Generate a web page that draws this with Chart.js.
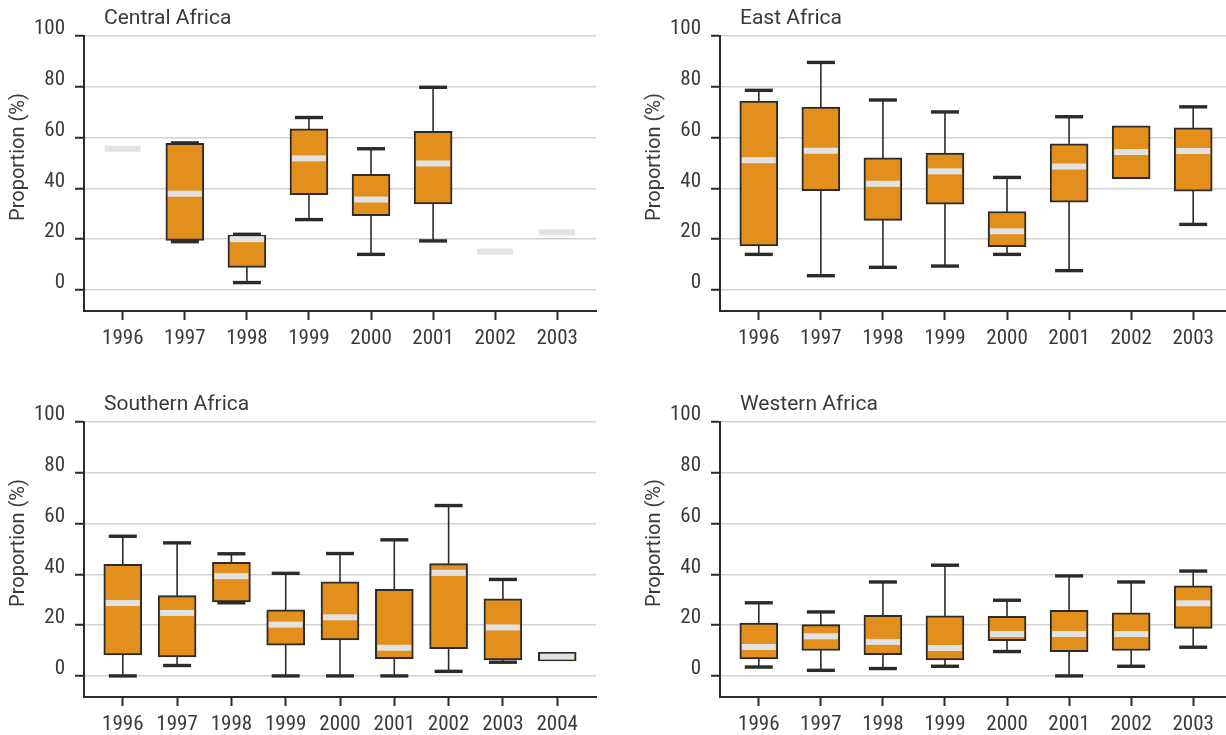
<!DOCTYPE html>
<html>
<head>
<meta charset="utf-8">
<script src="https://cdn.jsdelivr.net/npm/chart.js@4.4.1/dist/chart.umd.min.js"></script>
<style>
  html, body { margin: 0; padding: 0; background: #fff; overflow: hidden; width: 1226px; height: 735px; }
  .panel { position: absolute; }
</style>
</head>
<body>
<div class="panel" style="left:0;top:0"><canvas id="c-central" width="613" height="365"></canvas></div>
<div class="panel" style="left:636px;top:0"><canvas id="c-east" width="613" height="365"></canvas></div>
<div class="panel" style="left:0;top:386px"><canvas id="c-south" width="613" height="365"></canvas></div>
<div class="panel" style="left:636px;top:386px"><canvas id="c-west" width="613" height="365"></canvas></div>
<script>
// y axis ticks shared by all panels
const yTicks = [0, 20, 40, 60, 80, 100];

// Central Africa
const centralYears = ['1996', '1997', '1998', '1999', '2000', '2001', '2002', '2003'];
const centralMin = [null, 19.0, 2.9, 27.7, 14.0, 19.3, null, null];
const centralQ1  = [null, 19.5, 8.9, 37.5, 29.2, 33.9, null, null];
const centralMed = [55.6, 37.9, 20.0, 51.8, 35.6, 49.8, 15.1, 22.7];
const centralQ3  = [null, 57.7, 21.6, 63.4, 45.5, 62.5, null, null];
const centralMax = [null, 57.9, 21.9, 67.9, 55.6, 79.8, null, null];

// East Africa
const eastYears = ['1996', '1997', '1998', '1999', '2000', '2001', '2002', '2003'];
const eastMin = [14.0, 5.6, 8.9, 9.4, 14.0, 7.6, null, 25.8];
const eastQ1  = [17.3, 39.1, 27.4, 33.8, 17.0, 34.6, 43.8, 38.9];
const eastMed = [51.1, 54.8, 41.8, 46.7, 23.1, 48.6, 54.3, 54.7];
const eastQ3  = [74.4, 72.0, 52.0, 53.9, 30.9, 57.5, 64.6, 63.8];
const eastMax = [78.6, 89.6, 74.8, 70.1, 44.3, 68.2, null, 72.1];

// Southern Africa
const southYears = ['1996', '1997', '1998', '1999', '2000', '2001', '2002', '2003', '2004'];
const southMin = [0, 4.1, 28.8, 0, 0, 0, 1.8, 5.4, null];
const southQ1  = [8.3, 7.5, 29.1, 12.1, 14.2, 6.8, 10.7, 6.3, 5.9];
const southMed = [28.7, 24.8, 39.3, 20.2, 23.1, 11.1, 40.6, 19.1, 7.6];
const southQ3  = [43.9, 31.6, 44.7, 26.0, 37.1, 34.1, 44.2, 30.4, 9.3];
const southMax = [55.0, 52.4, 48.1, 40.4, 48.2, 53.6, 67.1, 38.0, null];

// Western Africa
const westYears = ['1996', '1997', '1998', '1999', '2000', '2001', '2002', '2003'];
const westMin = [3.5, 2.2, 2.9, 3.8, 9.6, 0, 3.8, 11.3];
const westQ1  = [6.7, 10.0, 8.4, 6.3, 13.9, 9.6, 10.0, 18.7];
const westMed = [11.4, 15.6, 13.4, 11.0, 16.5, 16.5, 16.5, 28.6];
const westQ3  = [20.8, 20.2, 23.9, 23.7, 23.5, 25.8, 24.8, 35.5];
const westMax = [28.8, 25.2, 37.0, 43.6, 29.8, 39.4, 37.0, 41.3];

const TICK_FONT = "'Roboto Condensed', Roboto, sans-serif";
const TITLE_FONT = "Roboto, sans-serif";
const DARK = '#2b2b2b';
const TEXT = '#3a3a3a';
const ORANGE = '#E38F1E';
const MEDIAN = '#e2e2e2';

/**
 * Whiskers, caps, median bands and panel texts drawn around the floating bars.
 */
function boxPlugin(title, lo, q1, med, hi) {
  return {
    id: 'boxExtras',
    beforeDatasetsDraw(chart) {
      const { ctx, scales: { x, y } } = chart;
      ctx.save();
      ctx.strokeStyle = DARK;
      ctx.lineWidth = 1.6;
      med.forEach((m, i) => {
        const px = x.getPixelForValue(i);
        [lo[i], hi[i]].forEach(v => {
          if (v === null) return;
          ctx.beginPath();
          ctx.moveTo(px, y.getPixelForValue(m));
          ctx.lineTo(px, y.getPixelForValue(v));
          ctx.stroke();
        });
      });
      ctx.restore();
    },
    afterDatasetsDraw(chart) {
      const { ctx, scales: { x, y } } = chart;
      ctx.save();
      med.forEach((m, i) => {
        const px = x.getPixelForValue(i);
        // caps
        ctx.fillStyle = DARK;
        [lo[i], hi[i]].forEach(v => {
          if (v === null) return;
          ctx.fillRect(px - 14, y.getPixelForValue(v) - 1.7, 28, 3.4);
        });
        // median band (wider when there is no box around it)
        ctx.fillStyle = MEDIAN;
        const w = q1[i] === null ? 36 : 34;
        ctx.fillRect(px - w / 2, y.getPixelForValue(m) - 3, w, 6);
      });

      // panel title
      ctx.fillStyle = TEXT;
      ctx.font = `21px ${TITLE_FONT}`;
      ctx.textAlign = 'left';
      ctx.textBaseline = 'alphabetic';
      ctx.fillText(title, 104, 24);

      // y axis title
      ctx.translate(18.5, 157);
      ctx.rotate(-Math.PI / 2);
      ctx.textAlign = 'center';
      ctx.textBaseline = 'middle';
      ctx.font = `20px ${TITLE_FONT}`;
      ctx.fillText('Proportion (%)', 0, 0);
      ctx.restore();
    }
  };
}

function makeBoxChart(canvasId, title, years, lo, q1, med, q3, hi) {
  const n = years.length;
  const unit = (512 - 2 * 38.8) / (n - 1);
  const pad = 38.8 / unit;
  const boxes = [];
  years.forEach((_, i) => {
    if (q1[i] !== null) boxes.push({ x: i, y: [q1[i], q3[i]] });
  });

  return new Chart(document.getElementById(canvasId).getContext('2d'), {
    type: 'bar',
    data: {
      datasets: [{
        data: boxes,
        backgroundColor: ORANGE,
        borderColor: DARK,
        borderWidth: 2,
        borderSkipped: false,
        barThickness: 38
      }]
    },
    options: {
      responsive: false,
      animation: false,
      events: [],
      layout: { padding: { top: 36, right: 17, left: 0, bottom: 0 } },
      plugins: { legend: { display: false }, tooltip: { enabled: false } },
      scales: {
        x: {
          type: 'linear',
          offset: false,
          min: -pad,
          max: n - 1 + pad,
          afterBuildTicks: (s) => { s.ticks = years.map((_, i) => ({ value: i })); },
          afterFit: (s) => { s.height = 54; },
          grid: { offset: false, drawOnChartArea: false, drawTicks: true, tickLength: 9, tickColor: DARK, tickWidth: 2 },
          border: { color: DARK, width: 2 },
          ticks: {
            color: TEXT,
            font: { family: TICK_FONT, size: 21 },
            padding: 6,
            autoSkip: false,
            maxRotation: 0,
            callback: (v) => years[v]
          }
        },
        y: {
          min: -8.3,
          max: 100,
          afterBuildTicks: (s) => { s.ticks = yTicks.map(v => ({ value: v })); },
          afterFit: (s) => { s.width = 84; },
          grid: { color: '#d2d2d2', lineWidth: 1.5, tickLength: 9, tickColor: DARK, tickWidth: 2 },
          border: { color: DARK, width: 2 },
          ticks: {
            color: TEXT,
            font: { family: TICK_FONT, size: 21 },
            padding: 10,
            labelOffset: -7
          }
        }
      }
    },
    plugins: [boxPlugin(title, lo, q1, med, hi)]
  });
}

makeBoxChart('c-central', 'Central Africa', centralYears, centralMin, centralQ1, centralMed, centralQ3, centralMax);
makeBoxChart('c-east', 'East Africa', eastYears, eastMin, eastQ1, eastMed, eastQ3, eastMax);
makeBoxChart('c-south', 'Southern Africa', southYears, southMin, southQ1, southMed, southQ3, southMax);
makeBoxChart('c-west', 'Western Africa', westYears, westMin, westQ1, westMed, westQ3, westMax);
</script>
</body>
</html>
